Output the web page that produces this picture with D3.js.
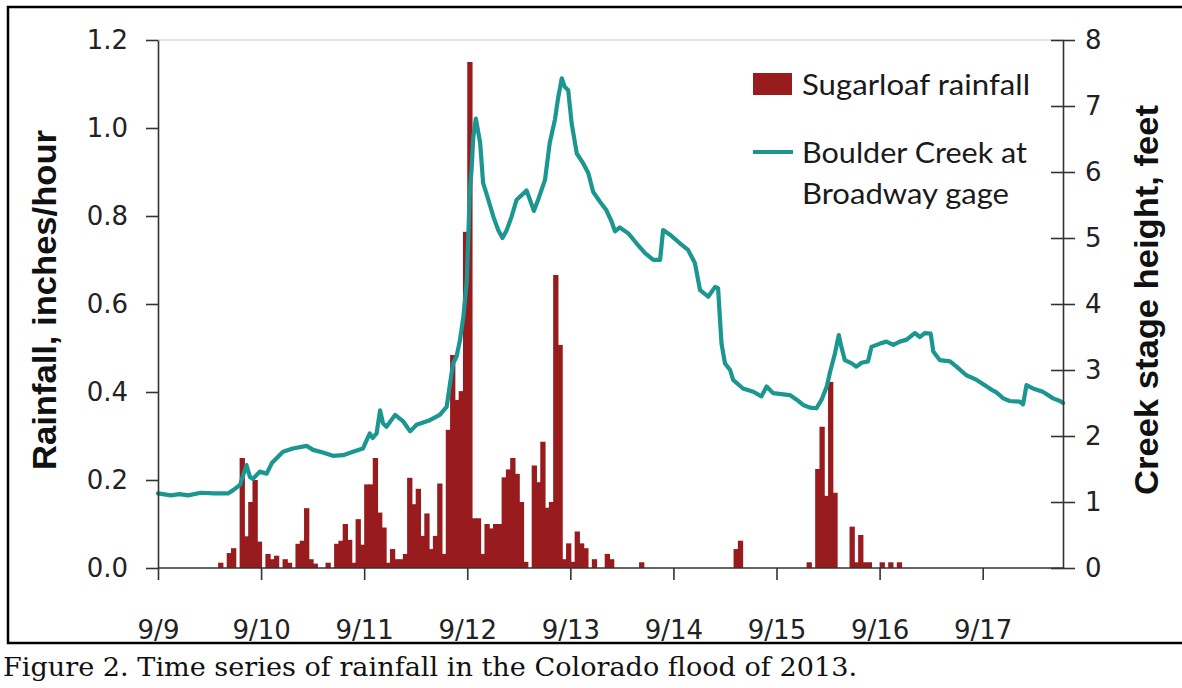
<!DOCTYPE html>
<html>
<head>
<meta charset="utf-8">
<script src="https://cdn.jsdelivr.net/npm/d3@7"></script>
<style>
  html, body { margin: 0; padding: 0; background: #fff; }
  svg { display: block; }
</style>
</head>
<body>
<script>
// ---------- DATA ----------
// Day tick labels (positions are hours after 9/9 00:00)
const dayLabels = ["9/9", "9/10", "9/11", "9/12", "9/13", "9/14", "9/15", "9/16", "9/17"];
const dayHours = [0, 24, 48, 72, 96, 120, 144, 168, 192];
const rainTicks = [0, 0.2, 0.4, 0.6, 0.8, 1.0, 1.2];
const stageTicks = [0, 1, 2, 3, 4, 5, 6, 7, 8];

// Sugarloaf hourly rainfall (hour index after 9/9 00:00, inches/hour); other hours are 0
const rainHour = [14, 16, 17, 19, 20, 21, 22, 23, 25, 26, 27, 29, 30, 32, 33, 34, 35, 36, 39,
  41, 42, 43, 44, 45, 46, 47, 48, 49, 50, 51, 52, 53, 54, 55, 56, 57, 58, 59, 60, 61, 62, 63, 64, 65, 66,
  67, 68, 69, 70, 71, 72, 73, 74, 75, 76, 77, 78, 79, 80, 81, 82, 83, 84, 85, 87, 88, 89, 90, 91, 92, 93,
  94, 95, 96, 97, 98, 99, 101, 104, 105, 112, 134, 135,
  151, 153, 154, 155, 156, 157, 161, 162, 163, 164, 165, 168, 170, 172];
const rainValue = [0.012, 0.034, 0.045, 0.25, 0.072, 0.15, 0.20, 0.06, 0.032, 0.02, 0.028, 0.02, 0.012, 0.055, 0.062, 0.136, 0.02, 0.01, 0.012,
  0.055, 0.062, 0.10, 0.064, 0.012, 0.111, 0.053, 0.19, 0.19, 0.25, 0.126, 0.092, 0.012, 0.043, 0.02, 0.02, 0.032, 0.205, 0.145, 0.18, 0.073, 0.124, 0.043, 0.073, 0.192, 0.032,
  0.314, 0.484, 0.382, 0.402, 0.764, 1.15, 0.113, 0.113, 0.032, 0.10, 0.09, 0.10, 0.10, 0.206, 0.224, 0.25, 0.214, 0.15, 0.014, 0.233, 0.195, 0.287, 0.137, 0.15, 0.666, 0.507,
  0.02, 0.056, 0.014, 0.083, 0.056, 0.045, 0.02, 0.032, 0.02, 0.013, 0.043, 0.062,
  0.013, 0.225, 0.321, 0.164, 0.423, 0.171, 0.094, 0.013, 0.075, 0.013, 0.013, 0.013, 0.013, 0.013];

// Boulder Creek at Broadway gage stage (hours after 9/9 00:00, feet)
const stageHour = [0, 3, 5, 7, 10, 13, 16.3, 17.5, 19.1, 20.6, 21.4, 22.1, 23.7, 25.3, 26.5, 29.1, 31.4, 34.6, 36.1, 38.4,
  40.7, 43.1, 45.4, 47.7, 49.3, 50.0, 50.9, 51.7, 52.4, 53.2, 55.2, 57.1, 58.7, 60.2, 63.3, 65.6, 67.2, 68.0, 68.7, 69.5,
  70.3, 71.1, 71.9, 72.6, 73.0, 73.4, 74.0, 74.6, 75.0, 75.7, 76.9, 78.1, 79.2, 80.2, 81.2, 82.3, 83.5, 84.7, 85.8, 86.6,
  87.5, 88.5, 90.1, 91.2, 92.4, 93.2, 94.0, 94.7, 95.5, 96.3, 97.5, 99.0, 100.2, 101.3, 102.9, 104.4, 105.6, 106.4, 107.5, 109.5,
  111.4, 113.4, 115.3, 116.9, 117.6, 119.2, 121.5, 123.4, 125.0, 126.2, 128.1, 129.7, 130.4, 130.8, 131.2, 132.0, 133.2, 133.9, 136.2, 138.6,
  140.5, 141.7, 143.2, 147.1, 148.7, 150.2, 151.8, 153.3, 154.5, 155.7, 156.4, 157.6, 158.5, 159.1, 159.9, 161.5, 162.6, 163.8, 165.3, 166.1,
  168.1, 169.6, 171.2, 172.7, 174.3, 176.2, 177.4, 178.5, 179.9, 180.5, 182.0, 184.4, 185.9, 188.2, 190.6, 192.5, 194.1, 195.2, 196.8, 198.3,
  200.6, 201.4, 202.2, 203.7, 206.0, 208.4, 210.0, 210.7];
const stageFeet = [1.13, 1.10, 1.12, 1.10, 1.14, 1.13, 1.13, 1.18, 1.26, 1.56, 1.38, 1.35, 1.46, 1.43, 1.59, 1.76, 1.81, 1.85, 1.79, 1.75,
  1.70, 1.71, 1.76, 1.81, 2.04, 1.97, 2.04, 2.39, 2.19, 2.14, 2.32, 2.22, 2.07, 2.17, 2.24, 2.32, 2.44, 2.80, 3.10, 3.20,
  3.45, 3.81, 4.35, 5.73, 6.03, 6.53, 6.81, 6.59, 6.44, 5.83, 5.58, 5.32, 5.12, 5.00, 5.12, 5.32, 5.58, 5.65, 5.72, 5.58,
  5.41, 5.58, 5.88, 6.44, 6.79, 7.14, 7.42, 7.29, 7.24, 6.74, 6.28, 6.13, 5.98, 5.70, 5.55, 5.42, 5.25, 5.10, 5.16, 5.07,
  4.92, 4.77, 4.67, 4.67, 5.12, 5.05, 4.92, 4.82, 4.62, 4.21, 4.11, 4.26, 4.24, 3.81, 3.40, 3.10, 3.00, 2.85, 2.72, 2.67,
  2.60, 2.75, 2.65, 2.62, 2.55, 2.47, 2.43, 2.42, 2.55, 2.75, 2.95, 3.25, 3.53, 3.35, 3.15, 3.10, 3.05, 3.11, 3.13, 3.35,
  3.40, 3.43, 3.38, 3.43, 3.46, 3.56, 3.50, 3.56, 3.55, 3.28, 3.15, 3.13, 3.05, 2.92, 2.85, 2.77, 2.70, 2.66, 2.57, 2.53,
  2.52, 2.48, 2.77, 2.72, 2.67, 2.57, 2.53, 2.50];

const legendLabels = ["Sugarloaf rainfall", "Boulder Creek at", "Broadway gage"];
const leftTitle = "Rainfall, inches/hour";
const rightTitle = "Creek stage height, feet";
const caption = "Figure 2. Time series of rainfall in the Colorado flood of 2013.";

// ---------- DRAWING ----------
const W = 1182, H = 688;
const barColor = "#981b1e";
const lineColor = "#1b9690";
const axisColor = "#333";

const svg = d3.select("body").append("svg").attr("width", W).attr("height", H);

// figure border
svg.append("rect").attr("x", 8).attr("y", 7).attr("width", W + 10).attr("height", 636)
  .attr("fill", "none").attr("stroke", "#000").attr("stroke-width", 2.5);

const x = d3.scaleLinear().domain([0, 210.7]).range([158, 1063]);
const yL = d3.scaleLinear().domain([0, 1.2]).range([568, 40]);
const yR = d3.scaleLinear().domain([0, 8]).range([568, 40]);

// top light frame line
svg.append("line").attr("x1", x(0)).attr("x2", x.range()[1]).attr("y1", yL(1.2)).attr("y2", yL(1.2))
  .attr("stroke", "#c8c8c8").attr("stroke-width", 1.2);

// bars
const rainData = rainHour.map((h, i) => ({ h, v: rainValue[i] }));
svg.append("g").selectAll("rect").data(rainData).join("rect")
  .attr("x", d => x(d.h))
  .attr("width", d => x(d.h + 1) - x(d.h) + 1)
  .attr("y", d => yL(d.v))
  .attr("height", d => yL(0) - yL(d.v))
  .attr("fill", barColor);

// line
const stageData = stageHour.map((h, i) => ({ h, v: stageFeet[i] }));
svg.append("path").datum(stageData)
  .attr("fill", "none").attr("stroke", lineColor).attr("stroke-width", 4.2)
  .attr("stroke-linejoin", "round").attr("stroke-linecap", "round")
  .attr("d", d3.line().x(d => x(d.h)).y(d => yR(d.v)));

const tickFont = "'DejaVu Sans', Verdana, sans-serif";

function styleAxis(g) {
  g.selectAll("path.domain").attr("stroke", axisColor).attr("stroke-width", 1.6);
  g.selectAll(".tick line").attr("stroke", axisColor).attr("stroke-width", 1.6);
  g.selectAll(".tick text").attr("fill", "#222").style("font-family", tickFont).style("font-size", "26px");
}

// left axis
const gL = svg.append("g").attr("transform", `translate(${x(0)},0)`)
  .call(d3.axisLeft(yL).tickValues(rainTicks).tickFormat(d3.format(".1f")).tickSize(12).tickSizeOuter(0).tickPadding(18));
styleAxis(gL);

// right axis (ticks cross the axis)
const gR = svg.append("g").attr("transform", `translate(${x.range()[1]},0)`)
  .call(d3.axisRight(yR).tickValues(stageTicks).tickFormat(d3.format("d")).tickSize(12).tickSizeOuter(0).tickPadding(10));
styleAxis(gR);
gR.selectAll(".tick line").attr("x1", -12);

// bottom axis
const gB = svg.append("g").attr("transform", `translate(0,${yL(0)})`)
  .call(d3.axisBottom(x).tickValues(dayHours).tickFormat((d, i) => dayLabels[i]).tickSize(12).tickSizeOuter(0).tickPadding(41));
styleAxis(gB);
gB.select("path.domain").attr("d", `M${x(0)},0H${x.range()[1]}`);

// axis titles
const titleFont = "'Liberation Sans Narrow', 'Liberation Sans', Arial, sans-serif";
svg.append("text").text(leftTitle)
  .attr("transform", `translate(56,${(130 + 470) / 2}) rotate(-90)`)
  .attr("text-anchor", "middle")
  .attr("textLength", 340).attr("lengthAdjust", "spacingAndGlyphs")
  .style("font-family", titleFont).style("font-weight", "bold").style("font-size", "33px").attr("fill", "#111");
svg.append("text").text(rightTitle)
  .attr("transform", `translate(1158,${(105 + 495) / 2}) rotate(-90)`)
  .attr("text-anchor", "middle")
  .attr("textLength", 390).attr("lengthAdjust", "spacingAndGlyphs")
  .style("font-family", titleFont).style("font-weight", "bold").style("font-size", "33px").attr("fill", "#111");

// legend
const legFont = "Lato, 'Open Sans', sans-serif";
const leg = svg.append("g");
leg.append("rect").attr("x", 753).attr("y", 73).attr("width", 39).attr("height", 22).attr("fill", barColor);
leg.append("line").attr("x1", 753).attr("x2", 793).attr("y1", 152).attr("y2", 152)
  .attr("stroke", lineColor).attr("stroke-width", 4);
const legBase = [95, 163, 204];
const legLen = [228, 225, 207];
legendLabels.forEach((t, i) => {
  leg.append("text").text(t).attr("x", 802).attr("y", legBase[i])
    .attr("textLength", legLen[i]).attr("lengthAdjust", "spacingAndGlyphs")
    .style("font-family", legFont).style("font-size", "28px").attr("fill", "#1a1a1a");
});

// caption
svg.append("text").text(caption).attr("x", 3).attr("y", 676)
  .attr("textLength", 854).attr("lengthAdjust", "spacingAndGlyphs")
  .style("font-family", "'DejaVu Serif', 'Liberation Serif', serif").style("font-size", "26px").attr("fill", "#111");
</script>
</body>
</html>
